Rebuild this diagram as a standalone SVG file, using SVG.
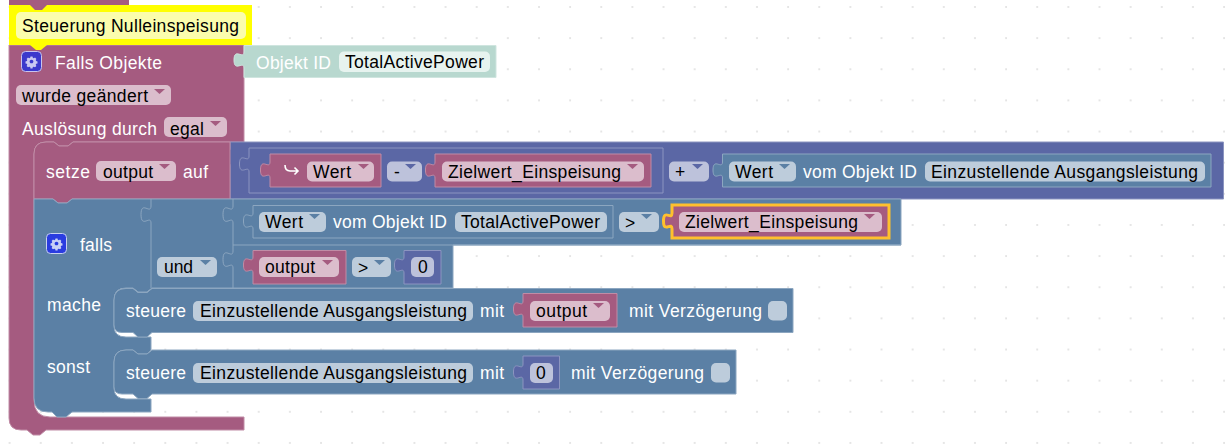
<svg xmlns="http://www.w3.org/2000/svg" width="1228" height="446" viewBox="0 0 1228 446">
<style>
text{font-family:"Liberation Sans",Arial,sans-serif;font-size:17.5px}
.l{fill:#fff}.t{fill:#000}
.m{fill:#a55b80;stroke:#c08ca6;stroke-width:1}
.p{fill:#5b67a5;stroke:#8c95c0;stroke-width:1}
.b{fill:#5b80a5;stroke:#8ca6c0;stroke-width:1}
.fm{fill:#dbbdcc}.fp{fill:#bdc2db}.fb{fill:#bdccdb}
.am{fill:#a55b80}.ap{fill:#5b67a5}.ab{fill:#5b80a5}
</style>
<defs>
<pattern id="g" width="31.14" height="31.14" patternUnits="userSpaceOnUse" x="-6" y="-8.6">
<path d="M15.1 15.6h1M15.6 15.1v1" stroke="#999" stroke-width="1"/>
</pattern>
<path id="dd" d="M0 0h11l-5.500 5z"/>
<path id="gear" d="M-1.300-6.500h2.600l.4 1.700 1.300.6 1.500-.9 1.800 1.800-.9 1.500.6 1.300 1.700.4v2.600l-1.700.4-.6 1.300.9 1.500-1.800 1.800-1.500-.9-1.300.6-.4 1.700h-2.600l-.4-1.700-1.300-.6-1.500.9-1.800-1.800.9-1.500-.6-1.300-1.700-.4v-2.600l1.700-.4.6-1.300-.9-1.500 1.800-1.800 1.500.9 1.300-.6zM0-2.400a2.400 2.400 0 1 0 .01 0z" fill-rule="evenodd"/>
</defs>
<rect width="1228" height="446" fill="#fff"/>
<rect width="1228" height="446" fill="url(#g)"/>

<g id="connectors">
<path d="M9 0H129V5H47l-6 5h-6l-5-5H9z" fill="#a55b80"/>
</g>

<g id="hat-block">
<path class="m" d="M9 45H244V142H73l-5 4h-9l-5-4H46Q34 142 34 154V400Q34 417 50 417H244V430H46l-6 5h-7l-6-5H21Q9 430 9 418z"/>
<text class="l" x="55" y="69" textLength="107">Falls Objekte</text>
<rect x="21.500" y="51.500" width="20" height="20" rx="4" fill="#3b39cc" stroke="#c8c4ee"/>
<use href="#gear" transform="translate(31.500 61.500) scale(.78)" fill="#c9c8f2"/>
<rect class="fm" x="16" y="85" width="155" height="20" rx="5"/>
<text class="t" x="22" y="102" textLength="126">wurde geändert</text>
<use href="#dd" class="am" x="154" y="89"/>
<text class="l" x="22" y="135" textLength="135">Auslösung durch</text>
<rect class="fm" x="164" y="117" width="63" height="20" rx="5"/>
<text class="t" x="170" y="135" textLength="34">egal</text>
<use href="#dd" class="am" x="210" y="121"/>
</g>

<g id="comment">
<rect x="9" y="5" width="243" height="40" fill="#ffff00"/>
<path d="M30 5l5 5h7l5-5z" fill="#a55b80"/>
<path d="M30 45l6 5h5l6-5z" fill="#ffff00"/>
<rect x="16" y="12" width="230" height="27" rx="5" fill="#fbfdac"/>
<text class="t" x="22" y="32" textLength="217">Steuerung Nulleinspeisung</text>
</g>

<g id="trigger-object">
<path d="M244 45.500H496V77.500H244V68c0-8-10 5-10-8s10 0 10-8z" fill="#b8d8cf" stroke="#cfe5df"/>
<text class="l" x="256" y="69" textLength="75">Objekt ID</text>
<rect x="339" y="51.500" width="151" height="20.500" rx="5" fill="#e7f3ef"/>
<text class="t" x="345" y="68" textLength="139">TotalActivePower</text>
</g>

<g id="math-outer">
<path class="p" d="M230 142H1223.500V199H230V166c0-9-10 6-10-9s10 0 10-9z"/>
</g>
<g id="setze">
<path class="m" d="M46 142H54l5 4h9l5-4H230V199H72l-5 4h-9l-5-4H34V154Q34 142 46 142z"/>
<text class="l" x="46" y="178" textLength="44">setze</text>
<rect class="fm" x="96" y="161" width="80" height="20" rx="5"/>
<text class="t" x="103" y="178" textLength="50">output</text>
<use href="#dd" class="am" x="159" y="164"/>
<text class="l" x="183" y="178" textLength="25">auf</text>
</g>

<g id="math-inner">
<path class="p" d="M249 148H663V193H249V172c0-8-9.500 5-9.500-8s9.500 0 9.500-8z"/>
</g>
<g id="round-wert">
<path class="m" d="M270 154H381V187H270V178c0-8-9.500 5-9.500-8s9.500 0 9.500-8z"/>
<path d="M285 165q0 6 5 6h8m-3.500-3.500l3.500 3.500-3.500 3.500" fill="none" stroke="#fff" stroke-width="1.600"/>
<rect class="fm" x="307" y="161.500" width="67" height="20" rx="5"/>
<text class="t" x="313" y="178" textLength="38">Wert</text>
<use href="#dd" class="am" x="358" y="164"/>
</g>
<g id="op-minus">
<rect class="fp" x="387" y="161.500" width="35" height="20" rx="5"/>
<text class="t" x="394" y="178">-</text>
<use href="#dd" class="ap" x="405" y="164"/>
</g>
<g id="zielwert-1">
<path class="m" d="M435 154H651V187H435V178c0-8-9.500 5-9.500-8s9.500 0 9.500-8z"/>
<rect class="fm" x="442" y="161.500" width="202" height="20" rx="5"/>
<text class="t" x="448" y="178" textLength="173">Zielwert_Einspeisung</text>
<use href="#dd" class="am" x="627" y="164"/>
</g>
<g id="op-plus">
<rect class="fp" x="669" y="161.500" width="40" height="20" rx="5"/>
<text class="t" x="675" y="178">+</text>
<use href="#dd" class="ap" x="692" y="164"/>
</g>
<g id="wert-obj-1">
<path class="b" d="M722.500 154H1211V187H722.500V178c0-8-9.500 5-9.500-8s9.500 0 9.500-8z"/>
<rect class="fb" x="729" y="161.500" width="67" height="20" rx="5"/>
<text class="t" x="735" y="178" textLength="38">Wert</text>
<use href="#dd" class="ab" x="779" y="164"/>
<text class="l" x="803" y="178" textLength="114">vom Objekt ID</text>
<rect class="fb" x="925" y="161.500" width="280" height="20" rx="5"/>
<text class="t" x="931" y="178" textLength="267">Einzustellende Ausgangsleistung</text>
</g>

<g id="if-block">
<path class="b" d="M34 199H53l5 4h9l5-4H901V245H453V288H152l-5 4h-9l-5-4H126Q114 288 114 300V326Q114 337 126 337H151V350l-4 4h-9l-5-4H126Q114 350 114 362V388Q114 399 126 399H151V412H72l-6 5h-9l-5-5H48Q34 412 34 398z"/>
<path d="M151 199V206c0 9-10-6-10 8.500s10 0 10 8.500V288M233 199V206c0 9-10-6-10 8.500s10 0 10 8.500V245H901M233 245V251c0 9-10-6-10 8.500s10 0 10 8.500V288" fill="none" stroke="#8ca6c0"/>
<rect x="46.500" y="233.500" width="20" height="20" rx="4" fill="#2a3ce0" stroke="#c8d0f0"/>
<use href="#gear" transform="translate(56.500 243.500) scale(.78)" fill="#c9d0f5"/>
<text class="l" x="80" y="251" textLength="32">falls</text>
<text class="l" x="47" y="311" textLength="54">mache</text>
<text class="l" x="47" y="373" textLength="43">sonst</text>
<rect class="fb" x="157" y="257" width="60" height="20" rx="5"/>
<text class="t" x="164" y="273" textLength="29">und</text>
<use href="#dd" class="ab" x="200" y="260"/>
</g>

<g id="wert-obj-2">
<path class="b" d="M253 205.500H613V238H253V229c0-8-9.500 5-9.500-8s9.500 0 9.500-8z"/>
<rect class="fb" x="259" y="212" width="67" height="20" rx="5"/>
<text class="t" x="265" y="228" textLength="38">Wert</text>
<use href="#dd" class="ab" x="309" y="214"/>
<text class="l" x="333" y="228" textLength="114">vom Objekt ID</text>
<rect class="fb" x="455" y="212" width="152" height="20" rx="5"/>
<text class="t" x="461" y="228" textLength="139">TotalActivePower</text>
</g>
<g id="op-gt-1">
<rect class="fb" x="619" y="212" width="40" height="20" rx="5"/>
<text class="t" x="625" y="229">&gt;</text>
<use href="#dd" class="ab" x="641" y="214"/>
</g>
<g id="zielwert-2">
<path d="M672 205H889V238H672V229c0-8-8.500 5-8.500-8s8.500 0 8.500-8z" fill="#a55b80" stroke="#ffc02d" stroke-width="3"/>
<rect class="fm" x="679" y="212" width="203" height="20" rx="5"/>
<text class="t" x="685" y="228" textLength="173">Zielwert_Einspeisung</text>
<use href="#dd" class="am" x="864" y="214"/>
</g>
<g id="output-1">
<path class="m" d="M253 250.500H346V284H253V273c0-8-9.500 5-9.500-8s9.500 0 9.500-8z"/>
<rect class="fm" x="259" y="257" width="80" height="20" rx="5"/>
<text class="t" x="265" y="273" textLength="50">output</text>
<use href="#dd" class="am" x="322" y="260"/>
</g>
<g id="op-gt-2">
<rect class="fb" x="352" y="257" width="39" height="20" rx="5"/>
<text class="t" x="358" y="274">&gt;</text>
<use href="#dd" class="ab" x="374" y="260"/>
</g>
<g id="num-1">
<path class="p" d="M404 250.500H441V284H404V273c0-8-9.500 5-9.500-8s9.500 0 9.500-8z"/>
<rect class="fp" x="411" y="257" width="23" height="20" rx="5"/>
<text class="t" x="418" y="273">0</text>
</g>

<g id="steuere-1">
<path class="b" d="M126 288.500H133l5 4h9l5-4H793V332.500H152l-5 4.500h-9l-5-4.500H122Q114 332.500 114 325V300Q114 288.500 126 288.500z"/>
<text class="l" x="126" y="317" textLength="60">steuere</text>
<rect class="fb" x="193" y="301" width="280" height="20" rx="5"/>
<text class="t" x="200" y="317" textLength="267">Einzustellende Ausgangsleistung</text>
<text class="l" x="480" y="317" textLength="24">mit</text>
<path class="m" d="M523 293.500H617V327H523V317c0-8-9.500 5-9.500-8s9.500 0 9.500-8z"/>
<rect class="fm" x="530" y="301" width="80" height="20" rx="5"/>
<text class="t" x="536" y="317" textLength="51">output</text>
<use href="#dd" class="am" x="593" y="303"/>
<text class="l" x="629" y="317" textLength="133">mit Verzögerung</text>
<rect class="fb" x="768" y="301" width="19" height="19.500" rx="5"/>
</g>

<g id="steuere-2">
<path class="b" d="M126 350H133l5 4h9l5-4H736V394H152l-5 4.500h-9l-5-4.500H122Q114 394 114 387V362Q114 350 126 350z"/>
<text class="l" x="126" y="379" textLength="60">steuere</text>
<rect class="fb" x="193" y="363" width="280" height="20" rx="5"/>
<text class="t" x="200" y="379" textLength="267">Einzustellende Ausgangsleistung</text>
<text class="l" x="480" y="379" textLength="24">mit</text>
<path class="p" d="M523 356H559.500V389H523V380c0-8-9.500 5-9.500-8s9.500 0 9.500-8z"/>
<rect class="fp" x="530" y="363" width="23" height="20" rx="5"/>
<text class="t" x="536" y="379">0</text>
<text class="l" x="571" y="379" textLength="133">mit Verzögerung</text>
<rect class="fb" x="711" y="363" width="19" height="19.500" rx="5"/>
</g>
</svg>
